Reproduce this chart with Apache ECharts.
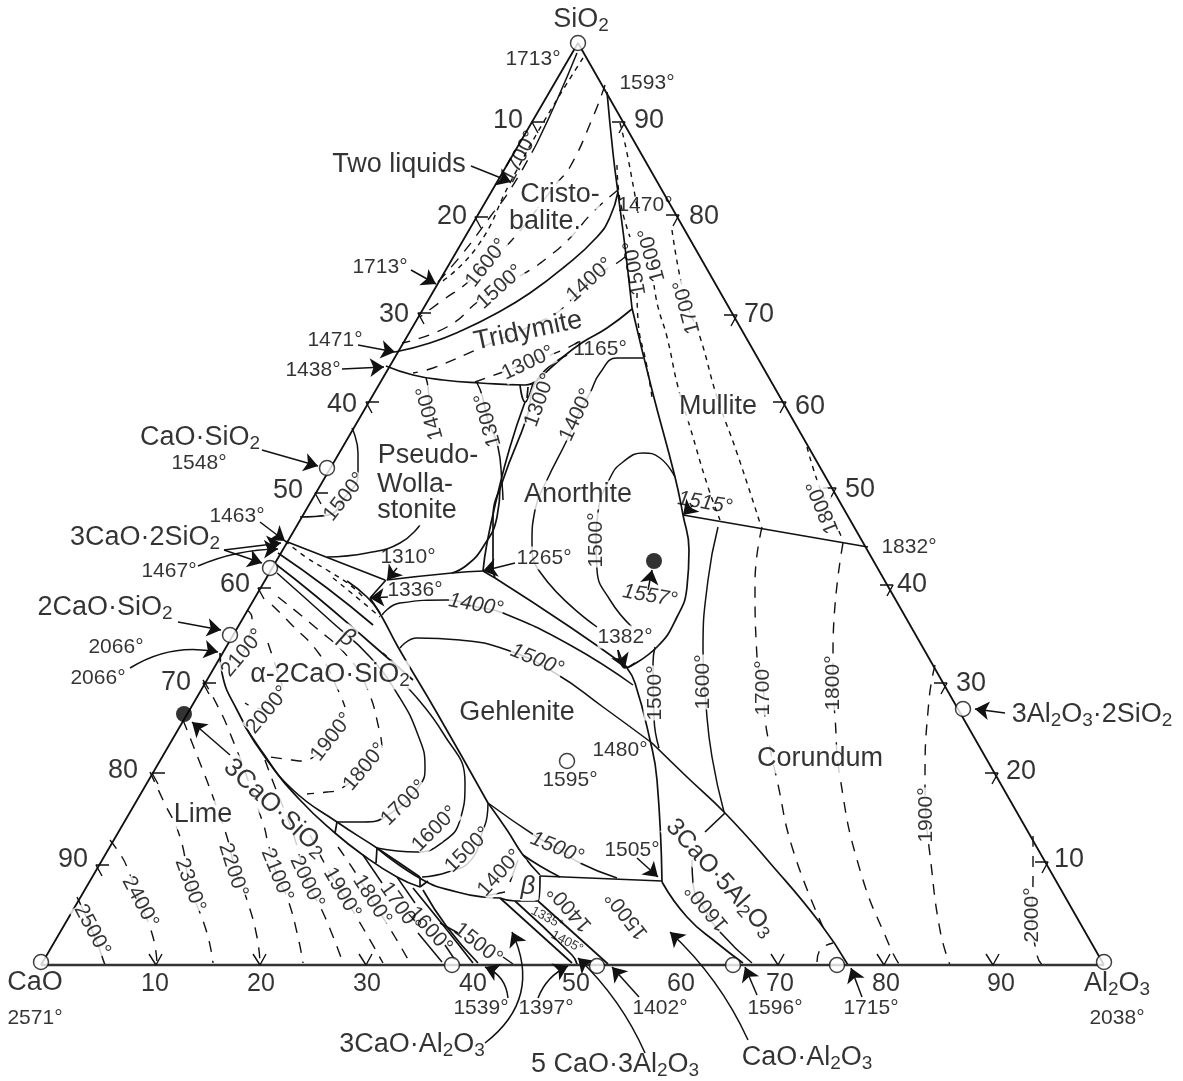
<!DOCTYPE html>
<html><head><meta charset="utf-8">
<script src="https://cdn.jsdelivr.net/npm/echarts@6/dist/echarts.min.js"></script>
<style>html,body{margin:0;padding:0;background:#fff}#c{width:1183px;height:1081px}</style></head>
<body><div id="c"></div>
<script>
// Diagram units: X runs along the CaO-Al2O3 side from the CaO corner (side = 1063), Y is height above that side (apex = 922).
const triangle = [[0,0],[537,922],[1063,0],[0,0]];
const tickValues = [10,20,30,40,50,60,70,80,90];
const leftTicks = [[491,843],[434,748],[377,652],[325,563],[274,472],[217,377],[162,282],[111,192],[55,100]];
const rightTicks = [[584,843],[638,750],[696,650],[745,563],[795,477],[852,380],[906,282],[957,192],[1007,103]];
const baseTicks = [[115,0],[219,0],[325,0],[737,0],[843,0],[952,0]];
const leftTickLabels = [[467,844],[411,748],[353,650],[301,560],[247,474],[194,380],[135,282],[82,194],[32,105]];
const rightTickLabels = [[608,844],[663,748],[718,650],[769,558],[819,475],[871,380],[930,281],[980,193],[1028,105]];
const baseTickLabels = [[114,-19],[220,-19],[326,-19],[432,-19],[535,-19],[640,-19],[739,-19],[845,-19],[960,-19]];

const boundaries = [
 [[354,613],[389,622],[422,635],[456,652],[489,672],[522,697],[556,728],[569,748],[577,773]],
 [[566,873],[572,812],[577,772],[584,718],[591,657]],
 [[591,657],[611,575],[634,488],[642,450],[648,415],[646,378],[636,348],[616,318],[586,297]],
 [[345,599],[372,590],[402,585],[439,582],[484,580],[497,585]],
 [[497,585],[522,608],[542,623],[566,637],[591,656]],
 [[484,563],[469,518],[456,468],[446,422],[442,394]],
 [[526,610],[496,585],[486,548],[462,485],[452,445],[452,393]],
 [[459,478],[456,448],[442,418],[426,400],[411,392]],
 [[346,385],[411,392],[442,394]],
 [[442,394],[454,387]],[[452,393],[454,387]],
 [[244,424],[344,385]],[[345,385],[329,367]],
 [[329,367],[341,348],[357,318],[396,252],[447,162]],
 [[454,387],[529,338],[586,298]],
 [[586,297],[594,282],[609,225],[616,185],[621,83]],
 [[621,83],[646,48],[676,22],[702,2]],
 [[611,222],[646,188],[684,152],[729,102],[779,42],[807,0]],
 [[684,152],[664,133]],
 [[642,450],[827,418]],
 [[499,89],[497,64],[474,64],[459,67]],
 [[336,117],[382,85],[416,73],[442,68],[459,67]],
 [[499,89],[621,84]],
 [[447,162],[466,135],[482,110],[499,90]],
 [[482,110],[499,99],[519,88]],
 [[459,67],[531,2]],[[474,64],[531,10],[536,1]],[[497,64],[567,1]],
 [[179,312],[181,292],[196,255],[222,212],[252,175],[296,143],[336,117],[379,88]],
 [[202,242],[226,205],[259,165],[294,132],[322,110],[356,88],[379,78]],
 [[296,143],[294,132]],[[336,117],[335,102]],[[379,88],[379,78]],[[379,78],[387,84]],
 [[382,75],[406,38],[437,2]],[[372,77],[402,40],[432,2]],
 [[237,412],[286,377],[332,340]],
 [[232,403],[276,368],[326,325],[372,285]],
 [[306,384],[326,368],[339,352]],
 [[479,580],[484,563],[492,582]],[[487,578],[486,567]],
 [[577,315],[584,297],[594,302]]
];
const isothermsSolid = [
 [[236,392],[292,342],[329,308],[357,270],[377,230],[384,198],[379,180],[347,150],[322,143],[296,143]],
 [[366,278],[402,232],[424,182],[419,145],[402,123],[376,113],[336,117]],
 [[381,88],[407,93],[430,105],[442,135],[446,148],[447,162]],
 [[444,69],[464,73]],[[477,105],[469,83]],
 [[447,162],[496,128],[516,117],[539,102],[576,87]],
 [[311,537],[317,512],[317,490],[304,468],[287,450],[259,448]],
 [[436,582],[441,570],[447,545],[457,518],[461,482],[462,465]],
 [[385,587],[387,578],[389,552]],
 [[286,408],[326,412],[359,422],[379,440]],
 [[341,350],[359,362],[406,365],[436,358],[462,352],[529,320],[592,280]],
 [[359,317],[376,327],[419,325],[466,315],[514,292],[562,258],[611,222]],
 [[602,607],[576,607],[559,592],[549,572],[536,548],[526,525],[506,485],[494,455],[491,422],[499,393],[556,338]],
 [[634,488],[619,507],[602,512],[582,503],[569,487],[557,453],[555,425],[556,395],[569,365],[591,338]],
 [[614,318],[612,302],[613,247],[618,217]],
 [[677,438],[667,385],[662,315],[665,260],[671,208],[683,153]],
 [[651,105],[652,82],[664,55],[679,33],[711,2]],
 [[36,68],[51,35],[64,0]],
 [[322,110],[341,82]],[[377,32],[401,3]],
 [[356,88],[374,62]],[[404,20],[414,5]],
 [[399,42],[417,32]],[[462,8],[472,1]],
 [[536,912],[516,865],[496,822]]
];
const isothermsDashed = [
 [[69,125],[81,108],[86,98],[99,63],[112,28],[116,2]],
 [[109,193],[122,165],[139,128],[149,80],[166,32],[172,2]],
 [[142,245],[159,202],[172,168],[186,128],[194,97],[206,65],[216,28],[219,2]],
 [[162,285],[172,268],[189,232],[222,142],[227,122],[236,90],[247,65],[257,28],[262,2]],
 [[224,205],[234,178],[251,135],[266,85],[284,48],[302,2]],
 [[269,130],[286,97],[301,72],[322,37],[342,2]],
 [[297,118],[314,93],[331,65],[354,28],[369,2]],
 [[237,368],[274,338],[307,308],[326,277],[339,232],[341,217]],
 [[231,360],[249,342],[279,310],[297,275],[304,258]],
 [[324,198],[297,175],[286,173],[266,171]],
 [[291,228],[261,204],[251,205],[229,208]],
 [[227,322],[231,310],[242,277]],
 [[227,255],[212,258],[204,262]],
 [[206,355],[211,347],[202,312]],
 [[496,822],[469,775],[449,748],[422,712],[396,682]],
 [[564,880],[552,848],[529,798],[516,782],[471,725],[446,702],[426,682],[402,665],[379,648]],
 [[577,775],[552,753],[529,727],[506,707],[489,695],[459,678],[439,665],[406,638],[361,622]],
 [[584,708],[576,702],[549,685],[527,662],[512,650],[439,617],[392,597],[372,592]],
 [[537,623],[522,615],[487,602],[434,583]],
 [[721,438],[714,382],[716,308],[722,278],[724,247],[728,222],[736,185],[752,115],[782,38]],
 [[802,422],[792,315],[792,282],[794,248],[799,188],[819,95],[849,18],[858,1]],
 [[894,300],[888,265],[884,185],[885,150],[889,110],[899,35],[909,0]],
 [[992,129],[992,87],[991,50],[996,10],[1001,0]],
 [[776,3],[779,15],[792,22]]
];
const isothermsShortDashed = [
 [[542,907],[502,842],[469,782],[436,718],[399,682]],
 [[576,800],[579,765],[589,728]],[[596,672],[597,645],[606,598],[611,568]],
 [[579,842],[586,812],[597,752]],[[613,680],[617,658],[626,628],[637,578],[649,538],[667,478],[679,445]],
 [[631,735],[639,688],[647,658],[659,628],[676,568],[696,512],[719,442]],
 [[766,518],[776,485],[787,458],[802,425]],
 [[244,424],[266,407],[286,395],[309,380],[322,368]],
 [[292,387],[319,365],[339,348]],
 [[342,312],[359,297]]
];
const arrows = [
 [430,799,470,783,0],[370,695,395,681,0],[317,620,354,613,0],[301,596,343,598,0],
 [221,515,277,499,0],[219,443,244,424,0],[183,415,240,422,0],[183,415,221,402,0],
 [157,399,237,416,0.1],[137,343,180,335,0],[89,297,177,313,0.2],[189,210,151,243,0],
 [356,397,346,385,0],[347,368,329,367,0],[474,402,442,394,0],[577,315,584,297,0],
 [652,460,642,450,0],[607,375,611,395,0],[596,107,617,88,0],[467,-33,444,-2,-0.3],
 [497,-33,527,-1,0.2],[598,-32,571,-2,0],[444,-78,471,33,-0.4],[604,-88,537,7,-0.1],
 [707,-75,629,33,-0.1],[716,-30,704,-2,0],[821,-32,810,-3,0],[964,252,934,256,0]
];
const openPoints = [[537,922],[286,497],[229,397],[189,330],[0,3],[411,0],[556,-1],[692,0],[796,0],[1063,3],[922,256],[526,204]];
const filledPoints = [[613,404],[143,251]];
const bigLabels = [
 ['SiO{s|2}',540,945,0],['CaO',-6,-18,0],['Al{s|2}O{s|3}',1076,-19,0],['Two liquids',358,800,0],
 ['CaO·SiO{s|2}',159,527,0],['3CaO·2SiO{s|2}',104,427,0],['2CaO·SiO{s|2}',64,357,0],
 ['Cristo-',519,770,0],['balite.',504,743,0],['Tridymite',487,634,12],['Mullite',677,558,0],
 ['Pseudo-',387,509,0],['Wolla-',374,480,0],['stonite',376,454,0],['Anorthite',537,470,0],
 ['α-2CaO·SiO{s|2}',289,290,0],['Gehlenite',476,252,0],['Corundum',779,206,0],['Lime',162,150,0],
 ['3CaO·SiO{s|2}',234,157,-43,26],['3CaO·5Al{s|2}O{s|3}',679,87,-48,25],
 ['3CaO·Al{s|2}O{s|3}',371,-80,0],['5 CaO·3Al{s|2}O{s|3}',574,-100,0],['CaO·Al{s|2}O{s|3}',766,-93,0],
 ['3Al{s|2}O{s|3}·2SiO{s|2}',1051,250,0]
];
const tempLabels = [
 ['2571°',-6,-53,0],['2038°',1076,-53,0],['1713°',492,906,0],['1593°',606,882,0],['1713°',339,698,0],
 ['1471°',294,625,0],['1438°',272,595,0],['1548°',158,502,0],['1463°',196,449,0],['1467°',128,394,0],
 ['2066°',75,318,0],['2066°',57,287,0],['1310°',367,408,0],['1336°',374,375,0],
 ['1165°',559,616,0],['1470°',604,760,0],['1595°',529,185,0],['1480°',579,215,0],
 ['1505°',591,115,0],['1832°',868,418,0],['1539°',440,-43,0],['1397°',505,-43,0],['1402°',619,-43,0],
 ['1596°',734,-43,0],['1715°',830,-43,0]
];
const tempLabelsOnLines = [['1265°',503,407,0],['1382°',584,328,0]];
const isothermLabels = [
 ['2500°',51,35,-62],['2400°',99,63,-62],['2300°',149,80,-70],['2200°',192,95,-72],['2100°',236,90,-68],
 ['2000°',266,83,-65],['1900°',301,72,-60],['1800°',331,65,-58],
 ['2100°',202,312,50],['2000°',227,255,50],['1900°',291,228,52],['1800°',324,198,50],
 ['1700°',363,162,45],['1600°',394,136,45],['1500°',427,115,45],['1400°',459,92,48],
 ['1500°',304,468,52],['1400°',389,552,105],['1300°',447,545,105],
 ['1700°',646,658,105],['1800°',782,458,112],
 ['1600°',446,702,52],['1500°',459,678,42],['1400°',549,685,42],['1300°',487,602,25],
 ['1300°',499,565,70],['1400°',536,550,65],['1500°',555,425,90],['1500°',614,272,90],['1600°',662,283,90],
 ['1700°',722,277,90],['1800°',792,282,90],['1900°',885,150,90],['2000°',991,50,90],
 ['1400°',529,57,131],['1500°',586,50,128],['1600°',666,58,130]
];
const isothermLabelsPlain = [
 ['1700°',359,58,-55],['1600°',389,35,-48],['1500°',437,21,-38],['1500°',594,697,100],['1600°',611,710,105],['1700°',479,808,62]
];
const italicLabels = [['1400°',435,360,-10],['1500°',496,305,-22],['1500°',516,117,-22]];
const italicLabelsPlain = [['1515°',664,462,-10],['1557°',609,369,-10]];
const betaLabels = [['β',306,327,-30,24],['β',487,78,0,26]];
const tinyLabels = [['1335°',506,47,-28],['1405°',526,23,-28]];

const ink = '#111';
const font = '"Liberation Sans", Arial, sans-serif';
const series = [];
function polyline(pts, width, type, smooth, z, color){
  series.push({type:'line',data:pts,symbol:'none',silent:true,animation:false,clip:false,z:z||3,
    smooth:smooth?0.5:false,lineStyle:{color:color||ink,width:width,type:type||'solid'}});
}
function labelItem(t, size, opt){
  opt = opt||{};
  return {value:[t[1],t[2]],label:{show:true,position:'inside',align:'center',verticalAlign:'middle',
    formatter:t[0],rotate:t[3]||0,fontSize:size,fontFamily:font,color:'#000',fontStyle:opt.italic?'italic':'normal',
    backgroundColor:opt.noBg?'transparent':'#fff',lineHeight:size+2,
    rich:{s:{fontSize:Math.round(size*0.72),fontFamily:font,color:'#000',fontStyle:'normal',padding:[Math.round(size*0.42),0,0,0]}}}};
}
function textSeries(items){
  series.push({type:'scatter',coordinateSystem:'cartesian2d',symbol:'circle',symbolSize:1,silent:true,animation:false,clip:false,z:8,
    itemStyle:{color:'rgba(0,0,0,0)'},data:items});
}
polyline(triangle.slice(0,3),1.8,'solid',false,4);
polyline([triangle[0],triangle[2]],2.6,'solid',false,4,'#333');
leftTicks.forEach(p=>{polyline([[p[0]+13,p[1]],p,[p[0]+6,p[1]-11]],1.4,'solid',false,4);});
rightTicks.forEach(p=>{polyline([[p[0]-13,p[1]],p,[p[0]-6,p[1]-11]],1.4,'solid',false,4);});
baseTicks.forEach(p=>{polyline([[p[0]-7,p[1]+11],p,[p[0]+6,p[1]+11]],1.4,'solid',false,4);});
boundaries.forEach(p=>polyline(p,1.7,'solid',true,3));
isothermsSolid.forEach(p=>polyline(p,1.5,'solid',true,3));
isothermsDashed.forEach(p=>polyline(p,1.4,[11,9],true,3));
isothermsShortDashed.forEach(p=>polyline(p,1.4,[5,5],true,3));
arrows.forEach(a=>{
  series.push({type:'lines',coordinateSystem:'cartesian2d',silent:true,animation:false,clip:false,z:9,
    symbol:['none','arrow'],symbolSize:14,
    lineStyle:{color:ink,width:1.5,curveness:a[4],opacity:1},
    data:[{coords:[[a[0],a[1]],[a[2],a[3]]]}]});
});
textSeries(leftTickLabels.map((p,i)=>labelItem([String(tickValues[i]),p[0],p[1],0],27,{noBg:true})));
textSeries(rightTickLabels.map((p,i)=>labelItem([String(tickValues[8-i]),p[0],p[1],0],27,{noBg:true})));
textSeries(baseTickLabels.map((p,i)=>labelItem([String(tickValues[i]),p[0],p[1],0],25,{noBg:true})));
textSeries(bigLabels.map(t=>labelItem(t,t[4]||27)));
textSeries(tempLabels.map(t=>labelItem(t,21,{noBg:true})));
textSeries(tempLabelsOnLines.map(t=>labelItem(t,21)));
textSeries(isothermLabels.map(t=>labelItem(t,21)));
textSeries(isothermLabelsPlain.map(t=>labelItem(t,21,{noBg:true})));
textSeries(italicLabels.map(t=>labelItem(t,21,{italic:true})));
textSeries(italicLabelsPlain.map(t=>labelItem(t,21,{italic:true,noBg:true})));
textSeries(betaLabels.map(t=>labelItem(t,t[4],{italic:true})));
textSeries(tinyLabels.map(t=>labelItem(t,13,{noBg:true})));
series.push({type:'scatter',symbol:'circle',symbolSize:15,silent:true,animation:false,clip:false,z:10,
  itemStyle:{color:'#fff',borderColor:ink,borderWidth:1.5},data:openPoints});
series.push({type:'scatter',symbol:'circle',symbolSize:16,silent:true,animation:false,clip:false,z:10,
  itemStyle:{color:'#000'},data:filledPoints});

const chart = echarts.init(document.getElementById('c'),null,{renderer:'canvas'});
chart.setOption({
  animation:false,backgroundColor:'#fff',
  grid:{left:0,right:0,top:0,bottom:0,containLabel:false},
  xAxis:{type:'value',min:-41,max:1142,show:false},
  yAxis:{type:'value',min:-116,max:965,show:false},
  series:series
});
</script></body></html>
